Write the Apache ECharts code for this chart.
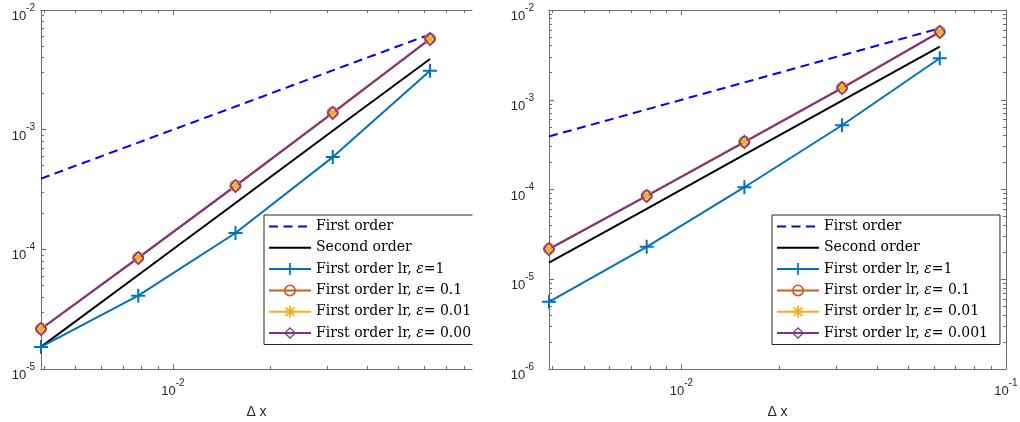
<!DOCTYPE html>
<html><head><meta charset="utf-8">
<script src="https://cdn.jsdelivr.net/npm/echarts@6/dist/echarts.min.js"></script>
<style>html,body{margin:0;padding:0;background:#fff}#c{width:1020px;height:422px}</style>
</head><body><div id="c"></div>
<script>
// ---- data ----
const dx = [0.00390625, 0.0078125, 0.015625, 0.03125, 0.0625];
const firstOrderRef = [3.9e-4, 7.8e-4, 1.56e-3, 3.13e-3, 6.25e-3];
const secondOrderRef = [1.53e-5, 6.1e-5, 2.44e-4, 9.8e-4, 3.9e-3];
const leftEps1 = [1.53e-5, 4.1e-5, 1.37e-4, 5.9e-4, 3.1e-3];
const leftEps01 = [2.17e-5, 8.5e-5, 3.4e-4, 1.39e-3, 5.75e-3];
const leftEps001 = [2.16e-5, 8.5e-5, 3.39e-4, 1.38e-3, 5.73e-3];
const leftEps0001 = [2.16e-5, 8.48e-5, 3.39e-4, 1.38e-3, 5.72e-3];
const rightEps1 = [5.6e-6, 2.3e-5, 1.06e-4, 5.2e-4, 2.9e-3];
const rightEps01 = [2.18e-5, 8.5e-5, 3.4e-4, 1.36e-3, 5.72e-3];
const rightEps001 = [2.17e-5, 8.5e-5, 3.39e-4, 1.36e-3, 5.7e-3];
const rightEps0001 = [2.17e-5, 8.48e-5, 3.38e-4, 1.35e-3, 5.69e-3];
const seriesNames = ['First order', 'Second order', 'First order lr, ε=1',
  'First order lr, ε= 0.1', 'First order lr, ε= 0.01', 'First order lr, ε= 0.001'];
const xAxisTitle = 'Δ x';
const leftXMajor = [0.01];
const rightXMajor = [0.01, 0.1];
const leftYMajor = [1e-5, 1e-4, 1e-3, 1e-2];
const rightYMajor = [1e-6, 1e-5, 1e-4, 1e-3, 1e-2];
const leftXRange = [0.00390625, 0.0843];
const rightXRange = [0.00390625, 0.1];
const leftYRange = [1e-5, 1e-2];
const rightYRange = [1e-6, 1e-2];

// ---- styling ----
const AX = '#6b6b6b', TXT = '#262626';
const C_BLUE = '#0072BD', C_OR = '#D95319', C_YE = '#EDB120', C_PU = '#7E2F8E';
const SYM_PLUS = 'path://M-1,-7H1V-1H7V1H1V7H-1V1H-7V-1H-1Z';
const SYM_STAR = 'path://M-0.9,-6H0.9V-0.9H6V0.9H0.9V6H-0.9V0.9H-6V-0.9H-0.9Z M-4.9,-3.6L-3.6,-4.9L4.9,3.6L3.6,4.9Z M3.6,-4.9L4.9,-3.6L-3.6,4.9L-4.9,3.6Z';
const SYM_RING = 'path://M0,-6A6,6 0 1,1 0,6A6,6 0 1,1 0,-6Z M0,-4.3A4.3,4.3 0 1,0 0,4.3A4.3,4.3 0 1,0 0,-4.3Z';
const SYM_DIAM = 'path://M0,-7.5L6,0L0,7.5L-6,0Z M0,-5.4L-4.3,0L0,5.4L4.3,0Z';

function minors(min, max) {
  const out = [];
  for (let e = Math.floor(Math.log10(min)); e <= Math.ceil(Math.log10(max)); e++) {
    for (let k = 2; k <= 9; k++) { const v = k * Math.pow(10, e); if (v >= min * 0.999 && v <= max * 1.001) out.push(v); }
  }
  return out;
}
const powLabel = v => '{b|10}{s|' + Math.round(Math.log10(v)) + '}';
const labelRich = {
  b: { fontSize: 13, color: TXT, fontFamily: 'Liberation Sans', verticalAlign: 'bottom', lineHeight: 20 },
  s: { fontSize: 10, color: TXT, fontFamily: 'Liberation Sans', verticalAlign: 'top', lineHeight: 10 }
};
function axis(kind, gridIndex, position, range, major, isMajor, withLabel, extra, margin) {
  const a = {
    type: 'log', logBase: 10, gridIndex, position, min: range[0], max: range[1],
    axisLine: { show: isMajor, lineStyle: { color: AX, width: 1 } },
    axisTick: { show: true, inside: true, length: isMajor ? 5 : 3, lineStyle: { color: AX, width: 1 },
      customValues: isMajor ? major : minors(range[0], range[1]) },
    axisLabel: { show: withLabel, customValues: major, formatter: powLabel, rich: labelRich,
      margin: margin != null ? margin : 6, padding: [6, 0, 0, 0] },
    splitLine: { show: false }, minorTick: { show: false }, splitArea: { show: false },
    axisPointer: { show: false }, offset: 0, z: 3
  };
  return Object.assign(a, extra || {});
}
const xName = { name: xAxisTitle, nameLocation: 'middle', nameGap: 36,
  nameTextStyle: { fontFamily: 'Liberation Sans', fontSize: 14, color: TXT } };

const xAxes = [
  axis('x', 0, 'bottom', leftXRange, leftXMajor, true, true, xName, 3),
  axis('x', 0, 'bottom', leftXRange, leftXMajor, false, false),
  axis('x', 0, 'top', leftXRange, leftXMajor, true, false),
  axis('x', 0, 'top', leftXRange, leftXMajor, false, false),
  axis('x', 1, 'bottom', rightXRange, rightXMajor, true, true, xName, 3),
  axis('x', 1, 'bottom', rightXRange, rightXMajor, false, false),
  axis('x', 1, 'top', rightXRange, rightXMajor, true, false),
  axis('x', 1, 'top', rightXRange, rightXMajor, false, false)
];
const yAxes = [
  axis('y', 0, 'left', leftYRange, leftYMajor, true, true, null, 6),
  axis('y', 0, 'left', leftYRange, leftYMajor, false, false),
  axis('y', 1, 'left', rightYRange, rightYMajor, true, true, null, 15),
  axis('y', 1, 'left', rightYRange, rightYMajor, false, false),
  axis('y', 1, 'right', rightYRange, rightYMajor, true, false),
  axis('y', 1, 'right', rightYRange, rightYMajor, false, false)
];

function pts(arr) { return dx.map((x, i) => [x, arr[i]]); }
function mk(name, xi, yi, arr, color, symbol, size, lineType) {
  return {
    type: 'line', name, xAxisIndex: xi, yAxisIndex: yi, data: pts(arr), clip: false,
    symbol: symbol || 'none', symbolSize: size || 0, showSymbol: !!symbol,
    lineStyle: { color, width: 2, type: lineType || 'solid' },
    itemStyle: { color, borderWidth: 0 },
    emphasis: { disabled: true }, animation: false
  };
}
function plotSeries(xi, yi, e1, e01, e001, e0001) {
  return [
    mk(seriesNames[0], xi, yi, firstOrderRef, '#0000FF', null, 0, [9, 5.5]),
    mk(seriesNames[1], xi, yi, secondOrderRef, '#000000'),
    mk(seriesNames[2], xi, yi, e1, C_BLUE, SYM_PLUS, 14),
    mk(seriesNames[3], xi, yi, e01, C_OR, SYM_RING, 12),
    mk(seriesNames[4], xi, yi, e001, C_YE, SYM_STAR, 11),
    mk(seriesNames[5], xi, yi, e0001, C_PU, SYM_DIAM, [12, 15])
  ];
}
const legendData = seriesNames.map((n, i) => i < 2 ? { name: n, itemStyle: { opacity: 0 } } : { name: n });
const legendBase = {
  orient: 'vertical', top: 215, data: legendData, itemWidth: 42, itemHeight: 15, itemGap: 6.3,
  padding: [4, 12, 4, 4], backgroundColor: '#fff', borderColor: '#262626', borderWidth: 1,
  selectedMode: false, z: 10,
  textStyle: { fontFamily: 'DejaVu Serif', fontSize: 14, lineHeight: 15, color: '#000',
    rich: { e: { fontFamily: 'DejaVu Serif', fontSize: 14, lineHeight: 15, fontStyle: 'italic', color: '#000' } } },
  formatter: n => n.replace('ε', '{e|ε}')
};

const chart = echarts.init(document.getElementById('c'), null, { renderer: 'canvas' });
chart.setOption({
  backgroundColor: '#fff', animation: false,
  grid: [
    { left: 41, top: 10, width: 431, height: 359, containLabel: false, outerBoundsMode: 'none' },
    { left: 549, top: 10, width: 457, height: 359, containLabel: false, outerBoundsMode: 'none' }
  ],
  xAxis: xAxes, yAxis: yAxes,
  legend: [Object.assign({}, legendBase, { left: 264 }), Object.assign({}, legendBase, { left: 772 })],
  series: [].concat(plotSeries(0, 0, leftEps1, leftEps01, leftEps001, leftEps0001),
                    plotSeries(4, 2, rightEps1, rightEps01, rightEps001, rightEps0001)),
  graphic: [{ type: 'rect', z: 100, shape: { x: 472.5, y: 200, width: 40, height: 160 }, style: { fill: '#fff' } }]
});
</script></body></html>
